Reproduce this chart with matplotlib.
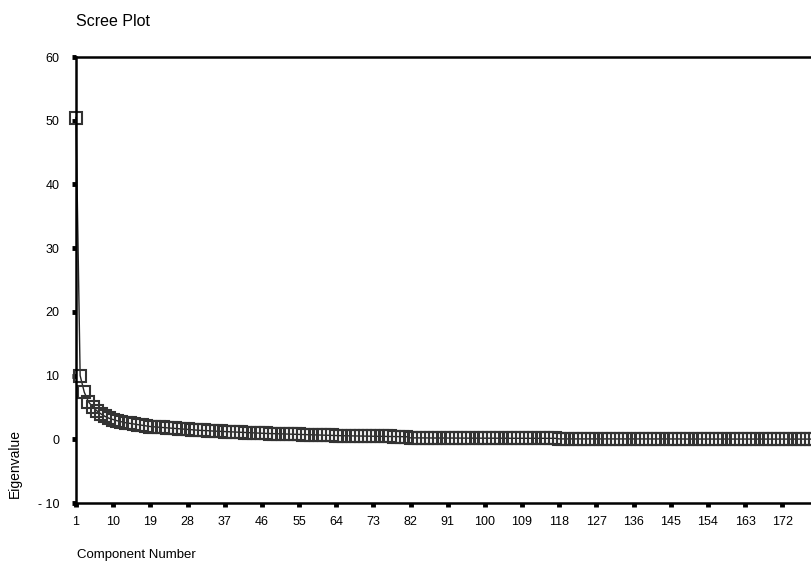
import matplotlib
matplotlib.use("Agg")
import matplotlib.pyplot as plt

plt.rcParams['font.family'] = ['Liberation Sans', 'DejaVu Sans']

# eigenvalues, component 1 onwards
eigen_1_20 = [50.5, 10.0, 7.4, 5.9, 5.1, 4.5, 4.0, 3.6, 3.3, 3.1,
              2.9, 2.75, 2.6, 2.5, 2.4, 2.3, 2.2, 2.1, 2.0, 1.95]
eigen_21_50 = [1.9, 1.85, 1.8, 1.75, 1.7, 1.65, 1.6, 1.55, 1.5, 1.45,
               1.4, 1.38, 1.35, 1.3, 1.27, 1.24, 1.2, 1.17, 1.14, 1.11,
               1.08, 1.05, 1.02, 1.0, 0.97, 0.94, 0.92, 0.9, 0.88, 0.86]
eigen_51_81 = [0.84, 0.82, 0.8, 0.78, 0.76, 0.74, 0.72, 0.7, 0.68, 0.66,
               0.64, 0.62, 0.6, 0.58, 0.56, 0.55, 0.54, 0.53, 0.52, 0.51,
               0.5, 0.49, 0.48, 0.47, 0.46, 0.45, 0.44, 0.43, 0.42, 0.41,
               0.40]
eigen_82_117 = [0.22, 0.22, 0.21, 0.21, 0.21, 0.2, 0.2, 0.2, 0.2, 0.19,
                0.19, 0.19, 0.19, 0.18, 0.18, 0.18, 0.18, 0.18, 0.17, 0.17,
                0.17, 0.17, 0.17, 0.16, 0.16, 0.16, 0.16, 0.16, 0.16, 0.15,
                0.15, 0.15, 0.15, 0.15, 0.15, 0.15]
eigen_118_185 = [0.06, 0.06, 0.06, 0.06, 0.06, 0.06, 0.06, 0.06, 0.06, 0.06,
                 0.05, 0.05, 0.05, 0.05, 0.05, 0.05, 0.05, 0.05, 0.05, 0.05,
                 0.05, 0.05, 0.05, 0.05, 0.05, 0.05, 0.05, 0.05, 0.05, 0.05,
                 0.04, 0.04, 0.04, 0.04, 0.04, 0.04, 0.04, 0.04, 0.04, 0.04,
                 0.04, 0.04, 0.04, 0.04, 0.04, 0.04, 0.04, 0.04, 0.04, 0.04,
                 0.03, 0.03, 0.03, 0.03, 0.03, 0.03, 0.03, 0.03, 0.03, 0.03,
                 0.03, 0.03, 0.03, 0.03, 0.03, 0.03, 0.03, 0.03]
eigenvalues = eigen_1_20 + eigen_21_50 + eigen_51_81 + eigen_82_117 + eigen_118_185
components = list(range(1, len(eigenvalues) + 1))

x_ticks = [1, 10, 19, 28, 37, 46, 55, 64, 73, 82, 91, 100, 109, 118,
           127, 136, 145, 154, 163, 172]
y_ticks = [-10, 0, 10, 20, 30, 40, 50, 60]
y_tick_labels = ['- 10', '0', '10', '20', '30', '40', '50', '60']

fig = plt.figure(figsize=(8.12, 5.70), dpi=100)
# axes runs past the right edge of the figure, as in the source image
px_per_comp = 4.13
x_max = 185
ax = fig.add_axes([76 / 812, 1 - 503 / 570,
                   (x_max - 1) * px_per_comp / 812, 446 / 570])

ax.plot(components, eigenvalues, color='#222222', linewidth=1.0,
        marker='s', markersize=8.5, markerfacecolor='none',
        markeredgecolor='#333333', markeredgewidth=1.5, clip_on=False)

ax.set_xlim(1, x_max)
ax.set_ylim(-10, 60)
ax.set_xticks(x_ticks)
ax.set_xticklabels([str(t) for t in x_ticks])
ax.set_yticks(y_ticks)
ax.set_yticklabels(y_tick_labels)

for side in ['left', 'top', 'bottom']:
    ax.spines[side].set_linewidth(1.8)
ax.spines['right'].set_visible(False)
ax.tick_params(axis='both', direction='out', length=3, width=3.5,
               labelsize=9, colors='black')
ax.tick_params(axis='x', pad=6.5)
ax.tick_params(axis='y', pad=9)

fig.text(76 / 812, 1 - 22 / 570, 'Scree Plot', fontsize=11.5,
         ha='left', va='center')
fig.text(77 / 812, 1 - 555 / 570, 'Component Number', fontsize=9.5,
         ha='left', va='center')
fig.text(15 / 812, 1 - 463 / 570, 'Eigenvalue', fontsize=10,
         rotation=90, ha='center', va='center')

fig.savefig('out.png', dpi=100)
